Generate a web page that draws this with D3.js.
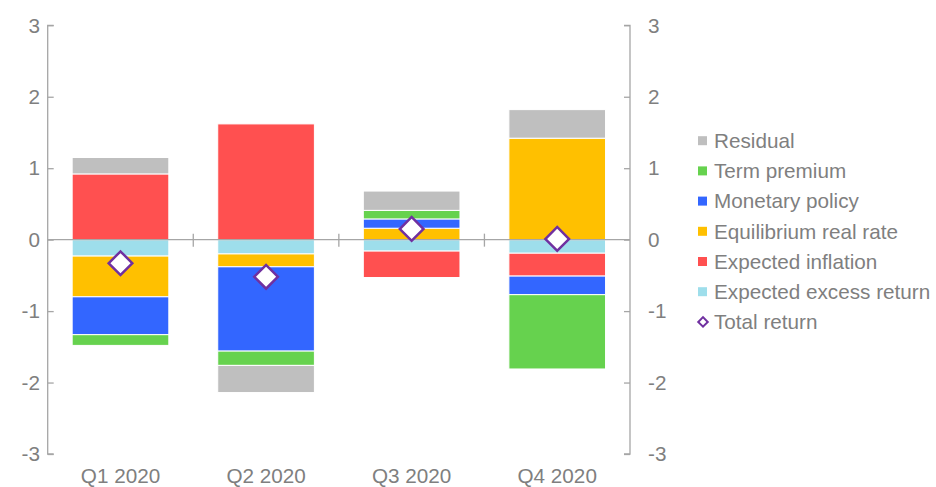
<!DOCTYPE html>
<html>
<head>
<meta charset="utf-8">
<script src="https://cdn.jsdelivr.net/npm/d3@7"></script>
<style>
  body { margin: 0; background: #fff; }
  svg { display: block; font-family: "Liberation Sans", Arial, sans-serif; }
</style>
</head>
<body>
<svg id="chart" width="936" height="487"></svg>
<script>
// Data
const quarters = ['Q1 2020', 'Q2 2020', 'Q3 2020', 'Q4 2020'];
const seriesNames = ['Expected excess return', 'Expected inflation', 'Equilibrium real rate',
                     'Monetary policy', 'Term premium', 'Residual'];
const expectedExcessReturn = [-0.23, -0.20, -0.16, -0.19];
const expectedInflation    = [0.92, 1.62, -0.37, -0.32];
const equilibriumRealRate  = [-0.57, -0.18, 0.16, 1.42];
const monetaryPolicy       = [-0.53, -1.18, 0.13, -0.26];
const termPremium          = [-0.15, -0.20, 0.12, -1.04];
const residual             = [0.23, -0.38, 0.27, 0.40];
const totalReturn          = [-0.33, -0.52, 0.15, 0.01];
const yTicks = [-3, -2, -1, 0, 1, 2, 3];

const colors = {
  'Expected excess return': '#9EDEEB',
  'Expected inflation': '#FF5050',
  'Equilibrium real rate': '#FFC000',
  'Monetary policy': '#3366FF',
  'Term premium': '#66D24E',
  'Residual': '#BFBFBF'
};
const seriesValues = [expectedExcessReturn, expectedInflation, equilibriumRealRate,
                      monetaryPolicy, termPremium, residual];

const svg = d3.select('#chart');
const axisColor = '#A6A6A6';
const textColor = '#7F7F7F';
const fontSize = '20.7px';

const x = d3.scaleBand()
  .domain(quarters)
  .range([47.7, 630])
  .paddingInner(0.336)
  .paddingOuter(0.168);

const y = d3.scaleLinear()
  .domain([-3, 3])
  .range([454, 25.3]);

// Stack positives and negatives separately
const segments = [];
quarters.forEach((q, i) => {
  let pos = 0, neg = 0;
  seriesNames.forEach((name, s) => {
    const v = seriesValues[s][i];
    if (v >= 0) {
      segments.push({q, name, y0: pos, y1: pos + v});
      pos += v;
    } else {
      segments.push({q, name, y0: neg + v, y1: neg});
      neg += v;
    }
  });
});

// Bars
svg.append('g')
  .selectAll('rect')
  .data(segments)
  .enter().append('rect')
  .attr('x', d => x(d.q))
  .attr('width', x.bandwidth())
  .attr('y', d => y(d.y1))
  .attr('height', d => y(d.y0) - y(d.y1))
  .attr('fill', d => colors[d.name])
  .attr('stroke', '#fff')
  .attr('stroke-width', 1);

// Left axis
const left = svg.append('g')
  .attr('transform', `translate(${x.range()[0]},0)`)
  .call(d3.axisRight(y).tickValues(yTicks).tickSize(6).tickFormat(''));
left.select('.domain').attr('d', `M6,${y(3)}H0V${y(-3)}H6`);
left.selectAll('line, path').attr('stroke', axisColor).attr('stroke-width', 1.3);

yTicks.forEach(t => {
  svg.append('text')
    .attr('x', 40).attr('y', y(t)).attr('dy', '0.35em')
    .attr('text-anchor', 'end')
    .attr('fill', textColor).style('font-size', fontSize)
    .text(t);
});

// Right axis
const right = svg.append('g')
  .attr('transform', `translate(${x.range()[1]},0)`)
  .call(d3.axisLeft(y).tickValues(yTicks).tickSize(6).tickFormat(''));
right.select('.domain').attr('d', `M-6,${y(3)}H0V${y(-3)}H-6`);
right.selectAll('line, path').attr('stroke', axisColor).attr('stroke-width', 1.3);

yTicks.forEach(t => {
  svg.append('text')
    .attr('x', 648).attr('y', y(t)).attr('dy', '0.35em')
    .attr('text-anchor', 'start')
    .attr('fill', textColor).style('font-size', fontSize)
    .text(t);
});

// Zero line with category separators
svg.append('line')
  .attr('x1', x.range()[0]).attr('x2', x.range()[1])
  .attr('y1', y(0)).attr('y2', y(0))
  .attr('stroke', axisColor).attr('stroke-width', 1.3);

const step = x.step();
quarters.slice(1).forEach(q => {
  const bx = x(q) - (step - x.bandwidth()) / 2;
  svg.append('line')
    .attr('x1', bx).attr('x2', bx)
    .attr('y1', y(0) - 6).attr('y2', y(0) + 7)
    .attr('stroke', axisColor).attr('stroke-width', 1.3);
});

// Category labels
svg.append('g')
  .selectAll('text')
  .data(quarters)
  .enter().append('text')
  .attr('x', d => x(d) + x.bandwidth() / 2)
  .attr('y', 483)
  .attr('text-anchor', 'middle')
  .attr('fill', textColor).style('font-size', fontSize)
  .text(d => d);

// Total return diamonds
const diamond = d3.symbol().type(d3.symbolSquare).size(280);
svg.append('g')
  .selectAll('path')
  .data(quarters)
  .enter().append('path')
  .attr('d', diamond)
  .attr('transform', (d, i) => `translate(${x(d) + x.bandwidth() / 2},${y(totalReturn[i])}) rotate(45)`)
  .attr('fill', '#fff')
  .attr('stroke', '#7030A0')
  .attr('stroke-width', 2.5);

// Legend
const legendItems = seriesNames.slice().reverse();
const legend = svg.append('g');
legendItems.forEach((name, i) => {
  const cy = 140.7 + i * 30.2;
  legend.append('rect')
    .attr('x', 698).attr('y', cy - 4.5)
    .attr('width', 9).attr('height', 9)
    .attr('fill', colors[name]);
  legend.append('text')
    .attr('x', 714).attr('y', cy).attr('dy', '0.35em')
    .attr('fill', textColor).style('font-size', fontSize)
    .text(name);
});
const ty = 140.7 + legendItems.length * 30.2;
legend.append('path')
  .attr('d', d3.symbol().type(d3.symbolSquare).size(45))
  .attr('transform', `translate(703,${ty}) rotate(45)`)
  .attr('fill', '#fff')
  .attr('stroke', '#7030A0')
  .attr('stroke-width', 2);
legend.append('text')
  .attr('x', 714).attr('y', ty).attr('dy', '0.35em')
  .attr('fill', textColor).style('font-size', fontSize)
  .text('Total return');
</script>
</body>
</html>
